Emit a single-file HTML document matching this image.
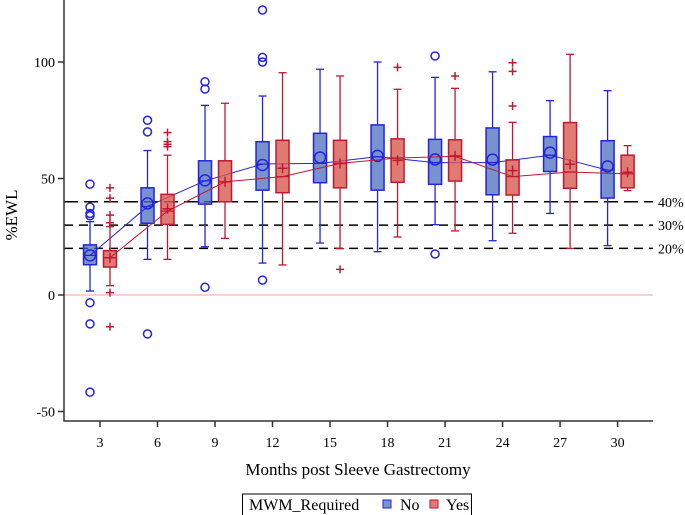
<!DOCTYPE html>
<html><head><meta charset="utf-8"><style>
body{margin:0;background:#fff;}
svg{display:block;font-family:"Liberation Serif",serif;}
</style></head><body>
<svg id="chart" width="685" height="515" viewBox="0 0 685 515" xmlns="http://www.w3.org/2000/svg"></svg>
<script>
const months=[3,6,9,12,15,18,21,24,27,30];
// [q1, median, q3, whiskerLow, whiskerHigh, mean]
const noStats=[[13,17,21.5,1.7,31.5,17],[30.8,38,46,15.3,62,39.3],[39,49,57.6,20.7,81.4,49.2],[45,56.2,65.8,13.7,85.4,55.8],[48.2,56.5,69.4,22.3,96.9,59],[45,59.4,73,18.6,100,59.7],[47.5,56.8,66.8,30.2,93.4,58.2],[43,56.8,71.7,23.3,95.8,58.1],[53,60,68,35,83.4,61.1],[41.6,53.6,66.2,21.2,87.7,55.2]];
const yesStats=[[12,16,19,4,29.3,16],[30.3,36,43.2,15.3,60,37],[40,48.6,57.6,24.3,82.3,48.6],[43.9,50.8,66.4,12.9,95.4,54.4],[46,56.5,66.4,19.9,94,56.5],[48.4,58.8,67,24.9,88.3,57.8],[48.9,59.5,66.6,27.5,88.7,59.7],[42.9,50.8,58,26.5,74.1,53.4],[45.8,52.8,74,20,103.3,56.1],[46,52,60,44.8,64.1,52.7]];
const noOutliers=[[47.6,37.7,35,34,-3.3,-12.4,-41.7],[75,70,-16.7],[91.5,88.4,3.3],[122.3,102,100,6.4],[],[],[102.6,17.6],[],[],[]];
const yesOutliers=[[46,41.6,34.3,31,1,-13.6],[69.7,65.8,64.7,63.7],[],[],[11],[97.7],[94],[99.7,96,81.1],[],[]];
const yTicks=[-50,0,50,100];
const refLines=[40,30,20];
const refLabels=["40%","30%","20%"];

const svg=document.getElementById('chart');
const NS='http://www.w3.org/2000/svg';
const L=64,R=653,T=0,B=421;
const ys=v=>295-v*2.33;
const xs=m=>100+(m-3)*19.17;
function mk(tag,attrs,parent){const e=document.createElementNS(NS,tag);for(const k in attrs)e.setAttribute(k,attrs[k]);(parent||svg).appendChild(e);return e;}

let z=mk('line',{x1:L,x2:R,y1:ys(0),y2:ys(0),stroke:'#f4a0a0','stroke-width':1});


refLines.forEach((v,i)=>{
  const l=mk('line',{x1:L,x2:R,y1:ys(v),y2:ys(v),stroke:'#000','stroke-width':1.5,'stroke-dasharray':i==0?'14,6':'9,6'});
  
  
  const t=mk('text',{x:658,y:ys(v)+5,'font-size':14,fill:'#000'});t.textContent=refLabels[i];
  
  
});
let ax=mk('path',{d:`M${L},${T} V${B} H${R}`,fill:'none',stroke:'#333','stroke-width':1.5});


yTicks.forEach(v=>{
  mk('line',{x1:L-6,x2:L,y1:ys(v),y2:ys(v),stroke:'#333','stroke-width':1.5});
  const t=mk('text',{x:L-9,y:ys(v)+5,'text-anchor':'end','font-size':14});t.textContent=v;
  
  
});
months.forEach(m=>{
  mk('line',{x1:xs(m),x2:xs(m),y1:B,y2:B+6,stroke:'#333','stroke-width':1.5});
  const t=mk('text',{x:xs(m),y:447,'text-anchor':'middle','font-size':14});t.textContent=m;
  
  
});
function series(stats,outs,off,stroke,fill,name,circle){
  const g=mk('g',{});
  
  
  stats.forEach((s,i)=>{
    const cx=xs(months[i])+off,w=13;
    const bg=mk('g',{},g);
    
    
    mk('line',{x1:cx,x2:cx,y1:ys(s[4]),y2:ys(s[2]),stroke,'stroke-width':1.3},bg);
    mk('line',{x1:cx,x2:cx,y1:ys(s[0]),y2:ys(s[3]),stroke,'stroke-width':1.3},bg);
    mk('line',{x1:cx-4,x2:cx+4,y1:ys(s[4]),y2:ys(s[4]),stroke,'stroke-width':1.3},bg);
    mk('line',{x1:cx-4,x2:cx+4,y1:ys(s[3]),y2:ys(s[3]),stroke,'stroke-width':1.3},bg);
    mk('rect',{x:cx-w/2,y:ys(s[2]),width:w,height:ys(s[0])-ys(s[2]),fill,stroke,'stroke-width':1.5},bg);
    mk('line',{x1:cx-w/2,x2:cx+w/2,y1:ys(s[1]),y2:ys(s[1]),stroke,'stroke-width':1.2},bg);
    if(circle) mk('circle',{cx,cy:ys(s[5]),r:5.5,fill:'none',stroke,'stroke-width':1.5},bg);
    else mk('path',{d:`M${cx-5},${ys(s[5])}h10M${cx},${ys(s[5])-5}v10`,stroke,'stroke-width':1.5},bg);
    outs[i].forEach(v=>{
      let o;
      if(circle) o=mk('circle',{cx,cy:ys(v),r:4,fill:'none',stroke,'stroke-width':1.5},g);
      else o=mk('path',{d:`M${cx-4},${ys(v)}h8M${cx},${ys(v)-4}v8`,stroke,'stroke-width':1.5},g);
      
      
    });
  });
  const pl=mk('polyline',{points:stats.map((s,i)=>`${xs(months[i])+off},${ys(s[1])}`).join(' '),fill:'none',stroke,'stroke-width':1},g);
  
  
}
series(noStats,noOutliers,-10,'#2323e0','rgba(75,110,190,0.75)','no',true);
series(yesStats,yesOutliers,10,'#c01830','rgba(215,90,80,0.8)','yes',false);

let yt=mk('text',{x:0,y:0,transform:'translate(17,215) rotate(-90)','text-anchor':'middle','font-size':17});yt.textContent='%EWL';


let xt=mk('text',{x:358,y:475,'text-anchor':'middle','font-size':17});xt.textContent='Months post Sleeve Gastrectomy';


const lg=mk('g',{});


mk('rect',{x:242.5,y:494,width:229,height:22,fill:'#fff',stroke:'#000','stroke-width':1},lg);
let lt=mk('text',{x:249,y:510,'font-size':16},lg);lt.textContent='MWM_Required';
const e1=mk('g',{},lg);


mk('rect',{x:383,y:500,width:8,height:8,fill:'rgba(75,110,190,0.75)',stroke:'#2323e0','stroke-width':1},e1);
let t1=mk('text',{x:400,y:510,'font-size':16},e1);t1.textContent='No';
const e2=mk('g',{},lg);


mk('rect',{x:430,y:500,width:8,height:8,fill:'rgba(215,90,80,0.8)',stroke:'#c01830','stroke-width':1},e2);
let t2=mk('text',{x:446,y:510,'font-size':16},e2);t2.textContent='Yes';
</script>
</body></html>
